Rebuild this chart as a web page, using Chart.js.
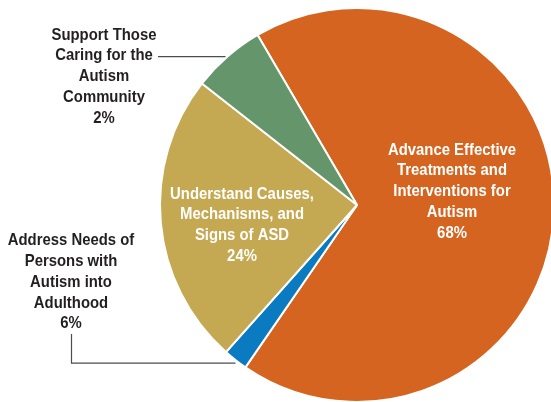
<!DOCTYPE html>
<html>
<head>
<meta charset="utf-8">
<script src="https://cdn.jsdelivr.net/npm/chart.js@4.4.1/dist/chart.umd.min.js"></script>
<style>
    html, body { margin: 0; padding: 0; background: #fff; overflow: hidden; }
    #wrap { width: 551px; height: 402px; overflow: hidden; }
</style>
</head>
<body>
<div id="wrap"><canvas id="pieChart" width="560" height="410"></canvas></div>
<script>
// Slices in drawing order (clockwise from the orange one)
const categories = [
    ['Advance Effective', 'Treatments and', 'Interventions for', 'Autism'],
    ['Address Needs of', 'Persons with', 'Autism into', 'Adulthood'],
    ['Understand Causes,', 'Mechanisms, and', 'Signs of ASD'],
    ['Support Those', 'Caring for the', 'Autism', 'Community']
];
const sliceValues = [68, 2, 24, 6];
const percentLabels = ['68%', '6%', '24%', '2%'];
const sliceColors = ['#d4641f', '#0a7bc1', '#c5a852', '#65956b'];

const FONT = '"Liberation Sans", Arial, sans-serif';

// Draw the text labels and leader lines
const labelPlugin = {
    id: 'sliceLabels',
    afterDatasetsDraw(chart) {
        const ctx = chart.ctx;
        const arcs = chart.getDatasetMeta(0).data;
        const cx = arcs[0].x, cy = arcs[0].y;
        const r = arcs[0].outerRadius;
        const lineH = 20.8;

        // narrow-ish bold text, like the original's condensed face
        function drawLines(lines, x, y, color) {
            ctx.save();
            ctx.fillStyle = color;
            ctx.font = 'bold 17px ' + FONT;
            ctx.textAlign = 'center';
            ctx.textBaseline = 'middle';
            lines.forEach((t, i) => {
                ctx.save();
                ctx.translate(x, y + i * lineH);
                ctx.scale(0.875, 1);
                ctx.fillText(t, 0, 0);
                ctx.restore();
            });
            ctx.restore();
        }

        function edgePoint(arc) {
            const mid = (arc.startAngle + arc.endAngle) / 2;
            return { x: cx + r * Math.cos(mid), y: cy + r * Math.sin(mid) };
        }

        // inside labels
        drawLines([...categories[0], percentLabels[0]], cx + 95, cy - 55, '#ffffff');
        drawLines([...categories[2], percentLabels[2]], cx - 115, cy - 11, '#ffffff');

        // outside labels
        drawLines([...categories[3], percentLabels[3]], 104, 35, '#231f20');
        drawLines([...categories[1], percentLabels[1]], 71, 240.5, '#231f20');

        ctx.save();
        ctx.strokeStyle = '#4d4d4d';
        ctx.lineWidth = 1.2;
        const g = edgePoint(arcs[3]);
        ctx.beginPath();
        ctx.moveTo(158, g.y);
        ctx.lineTo(g.x - 2, g.y);
        ctx.stroke();

        const b = edgePoint(arcs[1]);
        ctx.beginPath();
        ctx.moveTo(71.5, 334);
        ctx.lineTo(71.5, b.y + 3);
        ctx.lineTo(b.x, b.y + 3);
        ctx.stroke();
        ctx.restore();
    }
};

new Chart(document.getElementById('pieChart'), {
    type: 'pie',
    data: {
        labels: categories.map(c => c.join(' ')),
        datasets: [{
            data: sliceValues,
            backgroundColor: sliceColors,
            borderColor: '#ffffff',
            borderWidth: 2
        }]
    },
    options: {
        responsive: false,
        animation: false,
        rotation: -30.3,
        layout: { padding: { left: 159, right: 5, top: 7, bottom: 7 } },
        plugins: {
            legend: { display: false },
            tooltip: { enabled: false }
        }
    },
    plugins: [labelPlugin]
});
</script>
</body>
</html>
